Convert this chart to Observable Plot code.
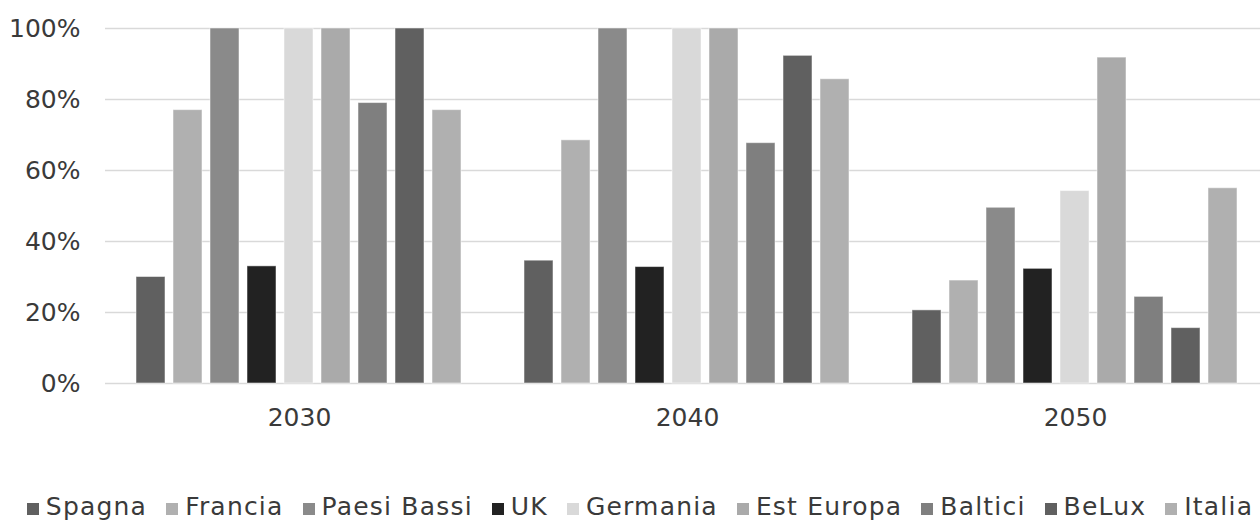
<!DOCTYPE html>
<html>
<head>
<meta charset="utf-8">
<script src="https://cdn.jsdelivr.net/npm/d3@7"></script>
<script src="https://cdn.jsdelivr.net/npm/@observablehq/plot@0.6"></script>
<style>
  html, body { margin: 0; padding: 0; background: #fff; overflow: hidden; width: 1260px; height: 522px; position: relative; }
  #chart svg { display: block; max-width: none !important; }
  #legend { position: absolute; left: 0; top: 492px; width: 1280px; display: flex; justify-content: center; align-items: center; gap: 19px;
    font-family: "DejaVu Sans", sans-serif; font-size: 25px; line-height: 30px; color: #3a3a3a; letter-spacing: 1.2px; }
  .item { display: flex; align-items: center; gap: 7px; white-space: nowrap; }
  .sw { width: 12px; height: 12px; display: inline-block; position: relative; top: 2px; }
</style>
</head>
<body>
<div id="chart"></div>
<div id="legend"></div>
<script>
const years = ["2030", "2040", "2050"];
const countries = ["Spagna", "Francia", "Paesi Bassi", "UK", "Germania", "Est Europa", "Baltici", "BeLux", "Italia"];
const colors = ["#606060", "#b0b0b0", "#8a8a8a", "#222222", "#d9d9d9", "#aaaaaa", "#7f7f7f", "#606060", "#b0b0b0"];
const values2030 = [0.30, 0.77, 1.00, 0.33, 1.00, 1.00, 0.79, 1.00, 0.77];
const values2040 = [0.346, 0.685, 1.00, 0.328, 1.00, 1.00, 0.677, 0.923, 0.857];
const values2050 = [0.206, 0.29, 0.495, 0.323, 0.542, 0.918, 0.244, 0.156, 0.55];
const yTicks = [0, 0.2, 0.4, 0.6, 0.8, 1.0];

const seriesByYear = [values2030, values2040, values2050];
const data = [];
years.forEach((yr, i) => countries.forEach((c, j) => data.push({year: yr, country: c, value: seriesByYear[i][j]})));

const font = "DejaVu Sans, sans-serif";
const chart = Plot.plot({
  width: 1269,
  height: 445,
  marginLeft: 105,
  marginRight: 0,
  marginTop: 28,
  marginBottom: 62,
  style: {fontFamily: font, fontSize: "25px", color: "#3a3a3a", background: "#fff", overflow: "visible", maxWidth: "none"},
  fx: {domain: years, padding: 0, label: null},
  x: {domain: countries, paddingInner: 0.216, paddingOuter: 0.85, axis: null},
  y: {domain: [0, 1], label: null},
  color: {domain: countries, range: colors},
  marks: [
    Plot.gridY(yTicks, {stroke: "#d9d9d9", strokeOpacity: 1, strokeWidth: 1.5}),
    Plot.axisY(yTicks, {tickSize: 0, tickPadding: 25, tickFormat: d3.format(".0%"), label: null, fontSize: 25, fill: "#3a3a3a"}),
    Plot.axisFx({anchor: "bottom", tickSize: 0, tickPadding: 25, label: null, fontSize: 25, fill: "#3a3a3a"}),
    Plot.barY(data, {fx: "year", x: "country", y: "value", fill: "country", stroke: "#ffffff", strokeOpacity: 0.5, strokeWidth: 1})
  ]
});
document.getElementById("chart").appendChild(chart);

const legend = document.getElementById("legend");
countries.forEach((c, i) => {
  const it = document.createElement("span");
  it.className = "item";
  const sw = document.createElement("span");
  sw.className = "sw";
  sw.style.background = colors[i];
  const t = document.createElement("span");
  t.textContent = c;
  it.appendChild(sw); it.appendChild(t);
  legend.appendChild(it);
});
</script>
</body>
</html>
